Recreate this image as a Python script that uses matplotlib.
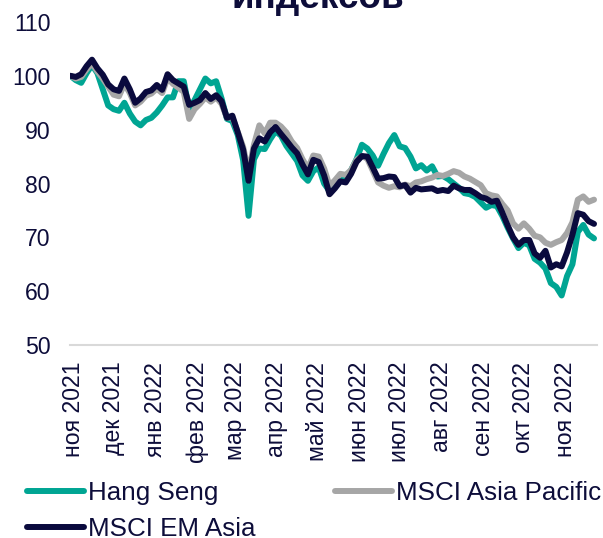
import pandas as pd
import matplotlib.pyplot as plt
from matplotlib.lines import Line2D

plt.rcParams['font.family'] = ['Liberation Sans', 'DejaVu Sans']

TEXT = '#0d0d3a'
COLORS = {
    'Hang Seng': '#00a593',
    'MSCI Asia Pacific': '#a6a6a6',
    'MSCI EM Asia': '#0a0a3d',
}

# values, one point every 4 days from START
START = '2021-10-30'

hang_seng = [
    100, 99.2, 98.7, 100.5, 102, 100.5, 97.5, 94.5, 93.8, 93.5,
    95, 93, 91.5, 90.8, 91.8, 92.2, 93.2, 94.5, 96, 96,
    99, 99, 93.8, 95.5, 97.5, 99.5, 98.6, 99, 95.8, 92,
    91.6, 89, 84.3, 74, 84.5, 86.5, 86.4, 88.2, 89.7, 88.9,
    87, 85.6, 84.2, 81.5, 80.5, 82.3, 83, 80, 78.6, 79.3,
    80.5, 81.2, 82.5, 84.5, 87.2, 86.5, 85.2, 83.3, 85.5, 87.5,
    89, 86.9, 86.6, 85, 82.8, 83.4, 82.4, 83.2, 81.3, 81.4,
    80.8, 80, 79.2, 78.2, 78, 77.5, 76.5, 75.5, 76, 75.8,
    74, 71.8, 69.8, 68, 69, 68.5, 66, 65.3, 64.2, 61.5,
    60.8, 59.2, 62.8, 65, 71, 72.3, 70.5, 69.8,
]

msci_asia_pacific = [
    100, 99.5, 99.8, 101.2, 102.3, 100.8, 99.5, 98, 96.5, 96.2,
    98.5, 96.8, 94.5, 95.2, 96.3, 96.7, 97.6, 96.8, 99.6, 98.5,
    97.8, 97, 92, 93.8, 94.8, 96, 95.2, 96, 94.8, 92.2,
    92.3, 89.6, 86.8, 82, 87.2, 90.8, 89.3, 91.3, 91.3, 90.6,
    89.5, 87.8, 86.6, 84.5, 82.8, 85.2, 85, 82.8, 79.6, 80.6,
    81.8, 81.6, 82.5, 84.4, 85.1, 84.6, 82.4, 80.2, 79.6, 79.2,
    79.5, 79.3, 79.8, 79.5, 80.2, 80.4, 80.8, 81.1, 81.6, 81.4,
    81.8, 82.3, 82, 81.3, 80.9, 80.3, 79.7, 78.2, 77.8, 77.6,
    76.2, 75, 72.6, 71.6, 72.6, 71.6, 70.3, 70, 69, 68.6,
    69.1, 69.5, 70.8, 72.8, 77, 77.6, 76.6, 77,
]

msci_em_asia = [
    100, 99.8, 100.3, 101.8, 103, 101.4, 100.2, 98.4, 97.5, 97.2,
    99.5, 97.5, 95, 95.8, 97, 97.3, 98.3, 97.4, 100.3, 99.2,
    98.6, 98, 94.6, 95, 95.5, 96.8, 95.7, 96.4, 95.3, 92.2,
    92.6, 89.5, 86.3, 80.5, 86.5, 88.4, 87.8, 89.5, 90.5, 89.2,
    88, 86.7, 85.6, 83.5, 81.7, 84.4, 84, 81.5, 78, 79.1,
    80.4, 80.2, 81.8, 84, 85.1, 85, 83, 80.9, 81, 81.3,
    81.2, 79.5, 79.7, 78.3, 79.2, 78.9, 79, 79.1, 78.6, 78.8,
    78.6, 79.6, 79.1, 78.8, 78.8, 78.2, 77.5, 77.2, 76.6, 76.8,
    74.6, 72.2, 70, 68.6, 69.5, 69.5, 67, 66.2, 67.5, 64.4,
    65, 64.6, 67.2, 70.5, 74.5, 74.2, 73, 72.5,
]

tick_dates = ['2021-11-01', '2021-12-01', '2022-01-01', '2022-02-01', '2022-03-01',
              '2022-04-01', '2022-05-01', '2022-06-01', '2022-07-01', '2022-08-01',
              '2022-09-01', '2022-10-01', '2022-11-01']
tick_labels = ['ноя 2021', 'дек 2021', 'янв 2022', 'фев 2022', 'мар 2022',
               'апр 2022', 'май 2022', 'июн 2022', 'июл 2022', 'авг 2022',
               'сен 2022', 'окт 2022', 'ноя 2022']

dates = pd.date_range(START, periods=len(hang_seng), freq='4D')
series = {
    'Hang Seng': hang_seng,
    'MSCI Asia Pacific': msci_asia_pacific,
    'MSCI EM Asia': msci_em_asia,
}

W, H = 603, 538
fig = plt.figure(figsize=(W / 100, H / 100), dpi=100)
ax = fig.add_axes([70 / W, 1 - 345 / H, 527 / W, 323 / H])

for name, vals in series.items():
    ax.plot(dates, vals, color=COLORS[name], lw=4.3,
            solid_capstyle='round', solid_joinstyle='round')

ax.set_ylim(50, 110)
ax.set_yticks(range(50, 111, 10))
ax.set_xlim(dates[0] - pd.Timedelta(days=0.3), dates[-1] + pd.Timedelta(days=2.2))
ax.set_xticks(pd.to_datetime(tick_dates))
ax.set_xticklabels(tick_labels, rotation=90, ha='center', va='top')

ax.tick_params(axis='both', length=0, labelsize=16.6, colors=TEXT)
ax.tick_params(axis='y', pad=14)
ax.tick_params(axis='x', pad=12)
for side in ['top', 'right', 'left']:
    ax.spines[side].set_visible(False)
ax.spines['bottom'].set_color('#d9d9d9')
ax.spines['bottom'].set_linewidth(1.5)

# only the bottom of the title's last line shows in the reference
fig.text(318 / W, 1 - 8 / H, 'индексов', ha='center', va='baseline',
         fontsize=26.6, fontweight='bold', color=TEXT)

order = ['Hang Seng', 'MSCI EM Asia', 'MSCI Asia Pacific']
handles = [Line2D([], [], color=COLORS[n], lw=4.3, solid_capstyle='round') for n in order]
fig.legend(handles, order, loc='upper left', bbox_to_anchor=(27 / W, 1 - 481 / H),
           ncol=2, frameon=False, fontsize=18.7, labelcolor=TEXT,
           handlelength=2.2, handletextpad=0.15, columnspacing=3.05,
           labelspacing=0.45, borderpad=0, borderaxespad=0)

fig.savefig('out.png', dpi=100)
